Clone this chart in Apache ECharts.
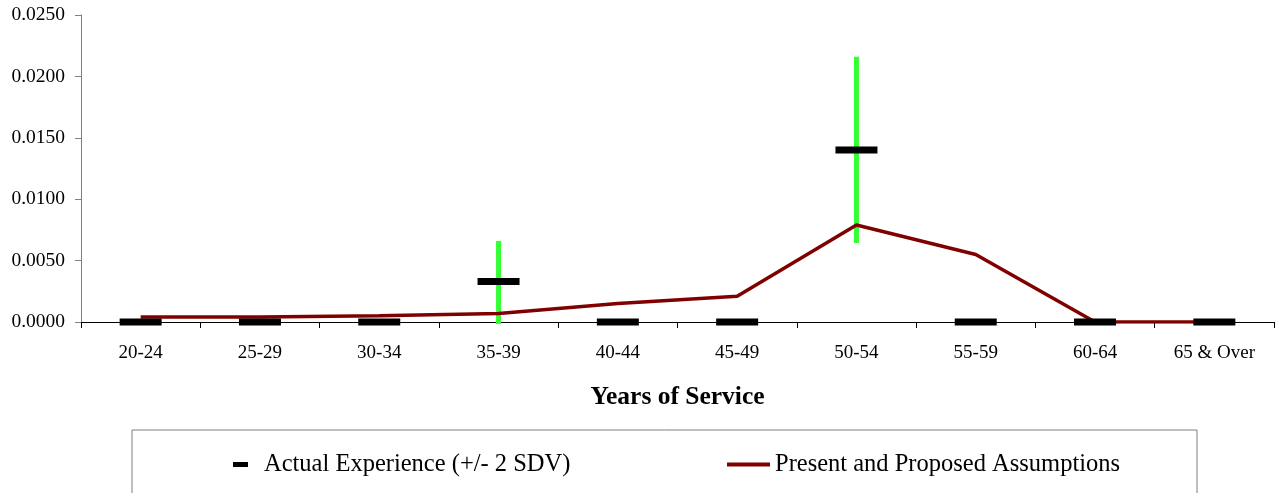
<!DOCTYPE html>
<html>
<head>
<meta charset="utf-8">
<script src="https://cdn.jsdelivr.net/npm/echarts@6/dist/echarts.min.js"></script>
<style>
    html, body {margin: 0; padding: 0; background: #fff;}
    #chart {width: 1275px; height: 493px;}
</style>
</head>
<body>
<div id="chart"></div>
<script>
// data
let categories = ['20-24', '25-29', '30-34', '35-39', '40-44', '45-49', '50-54', '55-59', '60-64', '65 & Over'];
let actual = [0, 0, 0, 0.0033, 0, 0, 0.0140, 0, 0, 0];
let errLow = [null, null, null, 0.0000, null, null, 0.0066, null, null, null];
let errHigh = [null, null, null, 0.0066, null, null, 0.0216, null, null, null];
let assumed = [0.0004, 0.0004, 0.0005, 0.0007, 0.0015, 0.0021, 0.0079, 0.0055, 0, 0];

let serif = '"Liberation Serif", "Times New Roman", serif';

let errData = [];
categories.forEach(function (c, i) {
    if (errLow[i] !== null) {
        errData.push([i, errLow[i], errHigh[i]]);
    }
});

let chart = echarts.init(document.getElementById('chart'), null, {renderer: 'canvas'});
chart.setOption({
    animation: false,
    backgroundColor: '#fff',
    grid: {left: 81, right: 1, top: 15, bottom: 171},
    graphic: [{
        type: 'rect',
        shape: {x: 132, y: 430, width: 1065, height: 80},
        style: {fill: 'none', stroke: '#7f7f7f', lineWidth: 1}
    }],
    legend: [
        {
            data: ['Actual Experience (+/- 2 SDV)'],
            left: 228, top: 447,
            itemWidth: 15, itemHeight: 5,
            textStyle: {fontFamily: serif, fontSize: 24.5, color: '#000', padding: [0, 0, 0, 11]}
        },
        {
            data: [{name: 'Present and Proposed Assumptions', icon: 'rect'}],
            left: 722, top: 447,
            itemWidth: 43, itemHeight: 4,
            textStyle: {fontFamily: serif, fontSize: 24.5, color: '#000', padding: [0, 0, 0, 0]}
        }
    ],
    xAxis: {
        type: 'category',
        data: categories,
        boundaryGap: true,
        name: 'Years of Service',
        nameLocation: 'middle',
        nameGap: 62,
        nameTextStyle: {fontFamily: serif, fontSize: 25.5, fontWeight: 'bold', color: '#000'},
        axisLine: {lineStyle: {color: '#000', width: 1}},
        axisTick: {show: true, length: 6, lineStyle: {color: '#000'}},
        axisLabel: {fontFamily: serif, fontSize: 19, color: '#000', margin: 22}
    },
    yAxis: {
        type: 'value',
        min: 0, max: 0.025, interval: 0.005,
        splitLine: {show: false},
        axisLine: {show: true, lineStyle: {color: '#808080', width: 1}},
        axisTick: {show: true, length: 6, lineStyle: {color: '#808080'}},
        axisLabel: {
            fontFamily: serif, fontSize: 19.5, color: '#000', margin: 16,
            formatter: function (v) {
                return v.toFixed(4);
            }
        }
    },
    series: [
        {
            name: 'err',
            type: 'custom',
            z: 2,
            data: errData,
            renderItem: function (params, api) {
                let p1 = api.coord([api.value(0), api.value(1)]);
                let p2 = api.coord([api.value(0), api.value(2)]);
                return {
                    type: 'line',
                    shape: {x1: p1[0], y1: p1[1] + 2, x2: p2[0], y2: p2[1]},
                    style: {stroke: '#33ff33', lineWidth: 5}
                };
            }
        },
        {
            name: 'Present and Proposed Assumptions',
            type: 'line',
            z: 3,
            data: assumed,
            symbol: 'none',
            lineStyle: {color: '#800000', width: 3.5},
            itemStyle: {color: '#800000'}
        },
        {
            name: 'Actual Experience (+/- 2 SDV)',
            type: 'scatter',
            z: 4,
            data: actual,
            symbol: 'rect',
            symbolSize: [42, 7],
            itemStyle: {color: '#000', opacity: 1}
        }
    ]
});
</script>
</body>
</html>
